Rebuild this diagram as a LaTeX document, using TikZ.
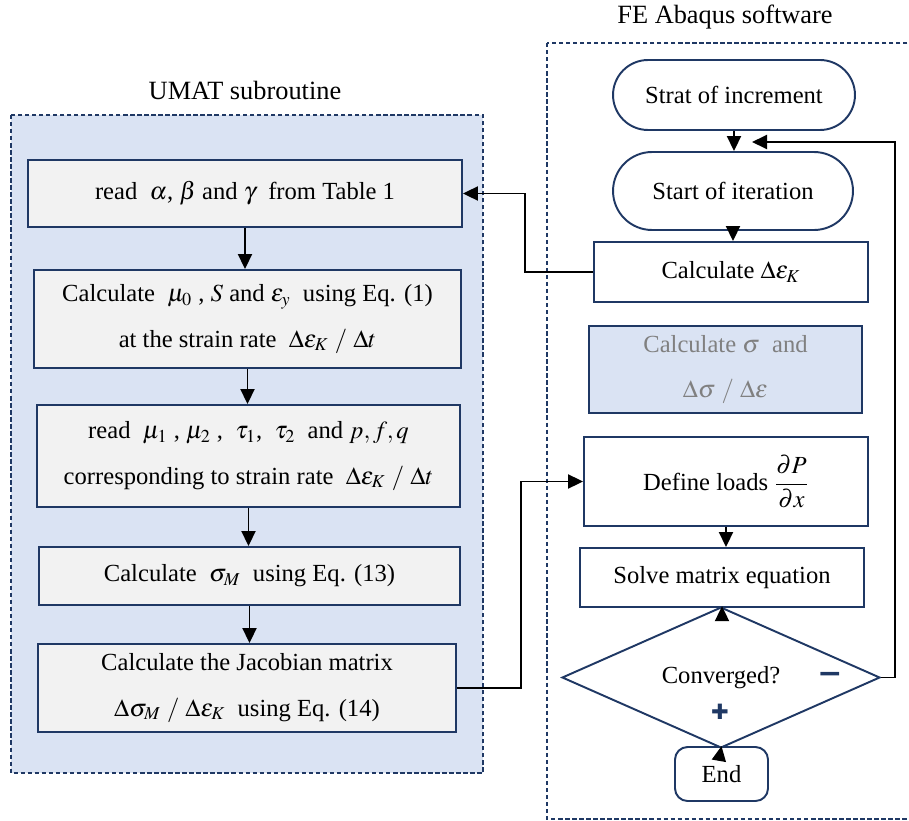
\documentclass[tikz,border=0pt]{standalone}
\usepackage{amsmath}
\usepackage{mathptmx}
\usepackage[no-math]{fontspec}
\setmainfont{Liberation Serif}
\newfontfamily\sgnfont{DejaVu Sans}
\usetikzlibrary{shapes.geometric,arrows.meta}
\definecolor{navy}{RGB}{31,56,100}
\definecolor{umatbg}{RGB}{218,227,243}
\definecolor{boxbg}{RGB}{242,242,242}
\definecolor{gtxt}{RGB}{128,128,128}

\begin{document}
\begin{tikzpicture}[x=0.02cm,y=-0.02cm,
   every node/.style={font=\fontsize{14}{26}\selectfont},
   box/.style={draw=navy,line width=1.1pt,fill=boxbg,align=center,inner sep=0pt},
   rbox/.style={draw=navy,line width=1.1pt,fill=white,align=center,inner sep=0pt},
   dec/.style={diamond,draw=navy,line width=1.1pt,fill=white,inner sep=0pt},
   frm/.style={draw=navy,line width=0.8pt,dash pattern=on 2.5pt off 1.5pt},
   ttl/.style={font=\fontsize{15}{18}\selectfont},
   sgn/.style={text=navy,font=\sgnfont\bfseries\fontsize{17}{17}\selectfont},
   arr/.style={-{Triangle[length=0.3cm,width=0.28cm]},line width=1.1pt}]
   \useasboundingbox (0,0) rectangle (909,821);

   % frames
   \draw[frm,fill=umatbg] (11,115) rectangle (483,773);
   \draw[frm] (547,43) rectangle (914,819);
   \node[ttl] (umat) at (245,90) {UMAT subroutine};
   \node[ttl] (fea) at (725,17) {FE Abaqus software};

   % UMAT side
   \node[box,minimum width=8.68cm,minimum height=1.34cm] (rdab) at (245,193.5)
      {read\ \ $\alpha$, $\beta$ and $\gamma$\ \ from Table 1};
   \node[box,minimum width=8.54cm,minimum height=1.96cm] (cmu) at (247.5,319)
      {Calculate\ \ $\mu_0$ , $S$ and $\varepsilon_y$\ \ using Eq. (1)\\
       at the strain rate\ \ $\Delta\varepsilon_K\ /\ \Delta t$};
   \node[box,minimum width=8.46cm,minimum height=2.04cm] (rmu) at (248.5,456)
      {read\ \ $\mu_1$ , $\mu_2$ ,\ \ $\tau_1$,\ \ $\tau_2$\ \ and $p, f, q$\\
       corresponding to strain rate\ \ $\Delta\varepsilon_K\ /\ \Delta t$};
   \node[box,minimum width=8.42cm,minimum height=1.16cm] (csig) at (249.5,576)
      {Calculate\ \ $\sigma_M$\ \ using Eq. (13)};
   \node[box,minimum width=8.36cm,minimum height=1.76cm] (jac) at (247,688)
      {Calculate the Jacobian matrix\\
       $\Delta\sigma_M\ /\ \Delta\varepsilon_K$\ \ using Eq. (14)};

   % Abaqus side
   \node[rbox,rounded corners=0.7cm,minimum width=4.84cm,minimum height=1.4cm] (inc) at (734,95)
      {Strat of increment};
   \node[rbox,rounded corners=0.78cm,minimum width=4.8cm,minimum height=1.56cm] (itr) at (733,191)
      {Start of iteration};
   \node[rbox,minimum width=5.48cm,minimum height=1.2cm] (cde) at (731,272)
      {Calculate $\Delta\varepsilon_K$};
   \node[rbox,fill=umatbg,text=gtxt,minimum width=5.46cm,minimum height=1.74cm] (csg) at (725.5,369.5)
      {Calculate $\sigma$\ \ and\\ $\Delta\sigma\ /\ \Delta\varepsilon$};
   \node[rbox,minimum width=5.68cm,minimum height=1.78cm] (dfl) at (726,481.5)
      {Define loads $\dfrac{\partial P}{\partial x}$};
   \node[rbox,minimum width=5.68cm,minimum height=1.18cm] (slv) at (722,577.5)
      {Solve matrix equation};
   \node[dec,minimum width=6.36cm,minimum height=1.98cm] (cnv) at (721,677.5)
      {Converged?};
   \node[rbox,rounded corners=0.25cm,minimum width=1.86cm,minimum height=1.08cm] (end) at (721.5,774)
      {End};
   \node[sgn] (mns) at (830,678) {−};
   \node[sgn,font=\sgnfont\fontsize{12}{12}\selectfont] (pls) at (720,712) {✚};

   \coordinate (fbr) at (895,142);
   \coordinate (fbin) at (752,142);

   \draw[arr] (rdab.south) -- (rdab.south |- cmu.north);
   \draw[arr] (cmu.south) -- (cmu.south |- rmu.north);
   \draw[arr] (rmu.south) -- (rmu.south |- csig.north);
   \draw[arr] (csig.south) -- (csig.south |- jac.north);

   \draw[arr] (inc.south) -- (inc.south |- itr.north);
   \draw[arr] (itr.south) -- (itr.south |- cde.north);
   \draw[arr] (cde.west) -- ++(-68,0) |- (rdab.east);
   \draw[arr] (jac.east) -- ++(64,0) |- (dfl.west);
   \draw[arr] (dfl.south) -- (dfl.south |- slv.north);
   \draw[arr] (slv.south) -- (slv.south |- cnv.north);
   \draw[arr] (cnv.east) -| (fbr) -- (fbin);
   \draw[arr] (cnv.south) -- (end.north);
\end{tikzpicture}
\end{document}
